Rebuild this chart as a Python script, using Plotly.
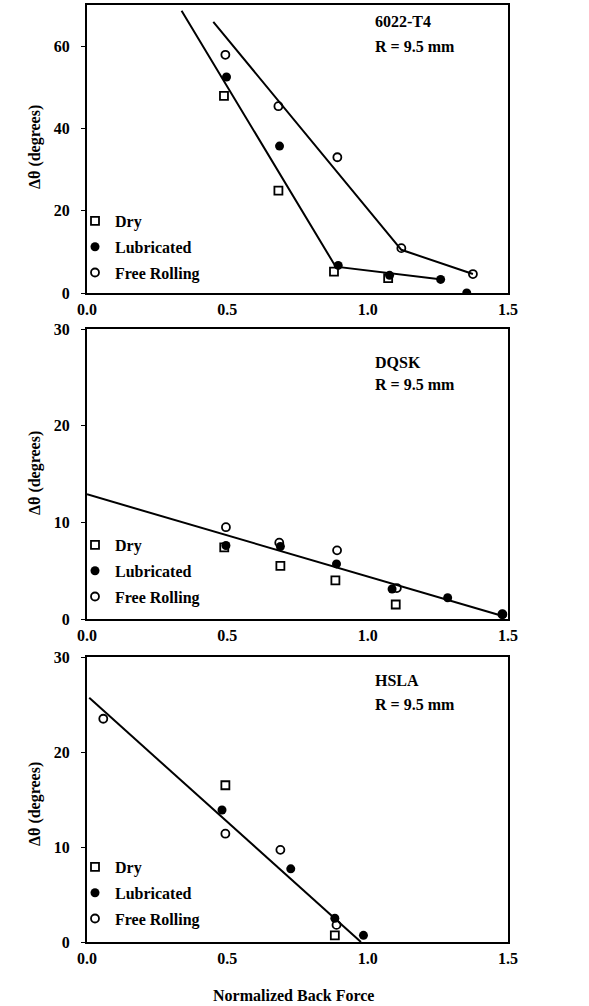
import plotly.graph_objects as go

# ---------------- data ----------------
# Panel 1: 6022-T4
p1_dry_x = [0.488, 0.682, 0.880, 1.073]
p1_dry_y = [47.9, 24.9, 5.2, 3.6]
p1_lub_x = [0.497, 0.686, 0.895, 1.078, 1.260, 1.353]
p1_lub_y = [52.5, 35.7, 6.7, 4.3, 3.3, 0.0]
p1_free_x = [0.493, 0.682, 0.892, 1.120, 1.375]
p1_free_y = [57.9, 45.4, 33.0, 10.9, 4.6]
p1_fitA_x = [0.337, 0.886, 1.265]
p1_fitA_y = [68.6, 6.4, 3.3]
p1_fitB_x = [0.450, 1.120, 1.375]
p1_fitB_y = [65.9, 10.5, 4.6]

# Panel 2: DQSK
p2_dry_x = [0.489, 0.689, 0.885, 1.100]
p2_dry_y = [7.4, 5.5, 4.0, 1.5]
p2_lub_x = [0.495, 0.689, 0.889, 1.087, 1.285, 1.480]
p2_lub_y = [7.6, 7.5, 5.7, 3.1, 2.2, 0.5]
p2_free_x = [0.495, 0.685, 0.891, 1.104, 1.480]
p2_free_y = [9.5, 7.9, 7.1, 3.2, 0.5]
p2_fit_x = [0.0, 1.493]
p2_fit_y = [12.9, 0.2]

# Panel 3: HSLA
p3_dry_x = [0.493, 0.883]
p3_dry_y = [16.5, 0.7]
p3_lub_x = [0.481, 0.726, 0.883, 0.985]
p3_lub_y = [13.9, 7.7, 2.5, 0.7]
p3_free_x = [0.058, 0.493, 0.689, 0.889]
p3_free_y = [23.5, 11.4, 9.7, 1.8]
p3_fit_x = [0.008, 0.976]
p3_fit_y = [25.7, 0.0]

panel_titles = [("6022-T4", "R = 9.5 mm"), ("DQSK", "R = 9.5 mm"), ("HSLA", "R = 9.5 mm")]
series_names = ["Dry", "Lubricated", "Free Rolling"]
x_ticks = [0.0, 0.5, 1.0, 1.5]
y_ticks_1 = [0, 20, 40, 60]
y_ticks_23 = [0, 10, 20, 30]
y_title = "Δθ (degrees)"
x_title = "Normalized Back Force"

# ---------------- figure ----------------
FONT = "Liberation Serif"
W, H = 589, 1006
L, R, T, B = 87, 81, 5, 64
pw = W - L - R
ph = H - T - B

def py(px):  # pixel y (from top) -> paper y
    return (H - B - px) / ph

def pxx(px):  # pixel x -> paper x
    return (px - L) / pw

domains = [(py(293), py(5)), (py(619), py(329)), (py(942), py(657))]

fig = go.Figure()

panels = [
    (p1_dry_x, p1_dry_y, p1_lub_x, p1_lub_y, p1_free_x, p1_free_y,
     [(p1_fitA_x, p1_fitA_y), (p1_fitB_x, p1_fitB_y)]),
    (p2_dry_x, p2_dry_y, p2_lub_x, p2_lub_y, p2_free_x, p2_free_y,
     [(p2_fit_x, p2_fit_y)]),
    (p3_dry_x, p3_dry_y, p3_lub_x, p3_lub_y, p3_free_x, p3_free_y,
     [(p3_fit_x, p3_fit_y)]),
]

legend_rows_top = [204, 528, 850]

for i, (dx, dy, lx, ly, fx, fy, fits) in enumerate(panels):
    n = i + 1
    xa = "x" if n == 1 else f"x{n}"
    ya = "y" if n == 1 else f"y{n}"
    lg = "legend" if n == 1 else f"legend{n}"
    for fxx, fyy in fits:
        fig.add_trace(go.Scatter(x=fxx, y=fyy, mode="lines", xaxis=xa, yaxis=ya,
                                 line=dict(color="black", width=2), showlegend=False,
                                 hoverinfo="skip"))
    fig.add_trace(go.Scatter(x=dx, y=dy, mode="markers", name=series_names[0],
                             xaxis=xa, yaxis=ya, legend=lg, legendgroup=f"d{n}",
                             marker=dict(symbol="square-open", size=8, color="black",
                                         line=dict(width=1.8, color="black"))))
    fig.add_trace(go.Scatter(x=lx, y=ly, mode="markers", name=series_names[1],
                             xaxis=xa, yaxis=ya, legend=lg, legendgroup=f"l{n}",
                             marker=dict(symbol="circle", size=9, color="black")))
    fig.add_trace(go.Scatter(x=fx, y=fy, mode="markers", name=series_names[2],
                             xaxis=xa, yaxis=ya, legend=lg, legendgroup=f"f{n}",
                             marker=dict(symbol="circle-open", size=8, color="black",
                                         line=dict(width=1.8, color="black"))))

layout = dict(
    width=W, height=H,
    margin=dict(l=L, r=R, t=T, b=B, autoexpand=False),
    paper_bgcolor="white", plot_bgcolor="white",
    font=dict(family=FONT, size=16, color="black", weight="bold"),
    showlegend=True,
)

for i in range(3):
    n = i + 1
    xk = "xaxis" if n == 1 else f"xaxis{n}"
    yk = "yaxis" if n == 1 else f"yaxis{n}"
    layout[xk] = dict(
        domain=[0, 1], anchor="y" if n == 1 else f"y{n}",
        range=[0, 1.5], tickvals=x_ticks, tickformat=".1f",
        showline=True, linecolor="black", linewidth=2, mirror=True,
        showgrid=False, zeroline=False, ticks="", ticklabelstandoff=1,
        tickfont=dict(family=FONT, size=16, weight="bold"),
        automargin=False,
    )
    layout[yk] = dict(
        domain=list(domains[i]), anchor="x" if n == 1 else f"x{n}",
        range=[0, 70] if n == 1 else [0, 30],
        tickvals=y_ticks_1 if n == 1 else y_ticks_23,
        showline=True, linecolor="black", linewidth=2, mirror=True,
        showgrid=False, zeroline=False, ticks="outside", ticklen=4,
        tickcolor="black", ticklabelstandoff=8,
        tickfont=dict(family=FONT, size=16, weight="bold"),
        automargin=False,
    )
    lg = "legend" if n == 1 else f"legend{n}"
    layout[lg] = dict(
        x=75 / W, xref="container", xanchor="left",
        y=1 - legend_rows_top[i] / H, yref="container", yanchor="top",
        bgcolor="rgba(0,0,0,0)", borderwidth=0,
        traceorder="grouped", tracegroupgap=2,
        font=dict(family=FONT, size=16, weight="bold", color="black"),
        itemwidth=30,
    )

fig.update_layout(**layout)

# y-axis titles
ytitle_centers = [147, 473, 804]
for yc in ytitle_centers:
    fig.add_annotation(text=y_title, xref="paper", yref="paper",
                       x=pxx(35), y=py(yc), xanchor="center", yanchor="middle",
                       textangle=-90, showarrow=False,
                       font=dict(family=FONT, size=16, weight="bold", color="black"))

# x-axis title
fig.add_annotation(text=x_title, xref="paper", yref="paper",
                   x=pxx(293), y=py(995), xanchor="center", yanchor="middle",
                   showarrow=False,
                   font=dict(family=FONT, size=16, weight="bold", color="black"))

# panel labels
label_pos = [(22, 47), (362, 384), (680, 704)]
for i, (t1, t2) in enumerate(panel_titles):
    for txt, ypix in zip((t1, t2), label_pos[i]):
        fig.add_annotation(text=txt, xref="paper", yref="paper",
                           x=pxx(373), y=py(ypix),
                           xanchor="left", yanchor="middle", showarrow=False,
                           font=dict(family=FONT, size=16, weight="bold", color="black"))

fig.write_html("out.html", config={"displayModeBar": False},
               post_script="document.body.style.margin='0';")
